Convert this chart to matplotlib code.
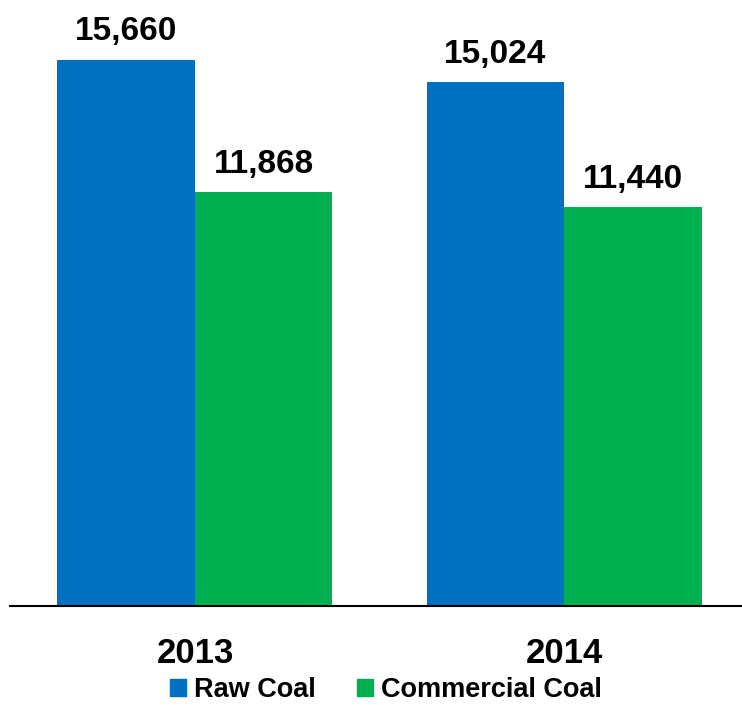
import numpy as np
import matplotlib
matplotlib.use("Agg")
from matplotlib import pyplot as plt
from matplotlib.patches import Patch

years = ["2013", "2014"]
raw_coal = [15660, 15024]
commercial_coal = [11868, 11440]
series_names = ["Raw Coal", "Commercial Coal"]
colors = ["#0070C0", "#00B050"]

plt.rcParams['font.family'] = ['Liberation Sans', 'DejaVu Sans']

fig = plt.figure(figsize=(7.42, 7.05), dpi=100)
ax = fig.add_axes([10 / 742, 99 / 705, 732 / 742, 606 / 705])

x = np.arange(len(years))
w = 0.3726
b1 = ax.bar(x - w / 2, raw_coal, w, color=colors[0])
b2 = ax.bar(x + w / 2, commercial_coal, w, color=colors[1])

for bars, vals in ((b1, raw_coal), (b2, commercial_coal)):
    for r, v in zip(bars, vals):
        ax.annotate(f"{v:,}", (r.get_x() + r.get_width() / 2, v),
                    xytext=(0, 9), textcoords="offset points",
                    ha="center", va="bottom", fontsize=24, fontweight="bold")

ax.set_xlim(-0.501, 1.482)
ax.set_ylim(0, 17380)
ax.set_yticks([])
ax.set_xticks(x)
ax.set_xticklabels(years, fontsize=25, fontweight="bold")
ax.tick_params(axis="x", length=0, pad=22)
for s in ["top", "right", "left"]:
    ax.spines[s].set_visible(False)
ax.spines["bottom"].set_linewidth(1.5)

handles = [Patch(color=c) for c in colors]
fig.legend(handles, series_names, loc="center", bbox_to_anchor=(0.52, 15 / 705),
           ncol=2, frameon=False, prop={"size": 19.5, "weight": "bold"},
           handlelength=0.6, handleheight=0.6, handletextpad=0.3, columnspacing=1.5)

fig.savefig("out.png", dpi=100)
